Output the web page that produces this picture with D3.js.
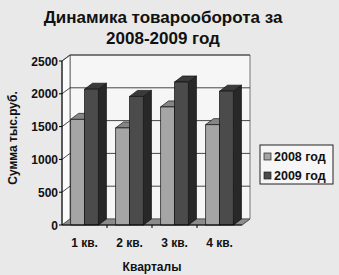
<!DOCTYPE html>
<html>
<head>
<meta charset="utf-8">
<script src="https://cdn.jsdelivr.net/npm/d3@7"></script>
<style>
  body { margin: 0; background: #e9e9e9; }
  svg { display: block; font-family: "Liberation Sans", Arial, sans-serif; }
</style>
</head>
<body>
<div id="chart"></div>
<script>
const quarters = ["1 кв.", "2 кв.", "3 кв.", "4 кв."]
const seriesNames = ["2008 год", "2009 год"]
const sales2008 = [1610, 1480, 1800, 1530]
const sales2009 = [2070, 1960, 2180, 2040]
const yTicks = [0, 500, 1000, 1500, 2000, 2500]

const width = 339, height = 275
const plot = { left: 62, right: 242, bottom: 225, top: 61 }
const depth = { dx: 8, dy: -6 }

const colors = [
  { front: "#a5a5a5", top: "#858585", side: "#6f6f6f" },
  { front: "#4b4b4b", top: "#3a3a3a", side: "#282828" }
]

const svg = d3.select("#chart").append("svg")
  .attr("width", width)
  .attr("height", height)

svg.append("rect").attr("width", width).attr("height", height).attr("fill", "#e9e9e9")

const y = d3.scaleLinear().domain([0, 2500]).range([plot.bottom, plot.top])
const x0 = d3.scaleBand().domain(quarters).range([plot.left, plot.right])
const groupW = x0.bandwidth() * 0.62
const x1 = d3.scaleBand().domain(seriesNames).range([0, groupW])

const pts = arr => arr.map(p => p.join(",")).join(" ")

// walls (back plane is the front scale shifted by the depth offset)
const bx = plot.left + depth.dx
const by = d3.scaleLinear().domain(y.domain()).range(y.range().map(v => v + depth.dy))
const bRight = plot.right + depth.dx
svg.append("polygon")
  .attr("points", pts([[bx, by(2500)], [bRight, by(2500)], [bRight, by(0)], [bx, by(0)]]))
  .attr("fill", "#f6f6f6").attr("stroke", "#555").attr("stroke-width", 0.8)
svg.append("polygon")
  .attr("points", pts([[plot.left, y(2500)], [bx, by(2500)], [bx, by(0)], [plot.left, y(0)]]))
  .attr("fill", "#fbfbfb").attr("stroke", "#555").attr("stroke-width", 0.8)
// floor
svg.append("polygon")
  .attr("points", pts([[plot.left, y(0)], [bx, by(0)], [bRight, by(0)], [plot.right, y(0)]]))
  .attr("fill", "#8c8c8c").attr("stroke", "#555").attr("stroke-width", 0.8)

// gridlines
yTicks.filter(d => d > 0).forEach(d => {
  svg.append("polyline")
    .attr("points", pts([[plot.left, y(d)], [bx, by(d)], [bRight, by(d)]]))
    .attr("fill", "none").attr("stroke", "#333").attr("stroke-width", 0.9)
})

// bars, drawn left to right so each front face hides the previous side
const data = quarters.map((q, i) => [sales2008[i], sales2009[i]])
quarters.forEach((q, i) => {
  data[i].forEach((v, s) => {
    const xl = x0(q) + (x0.bandwidth() - groupW) / 2 + x1(seriesNames[s])
    const xr = xl + x1.bandwidth()
    const yt = y(v), yb = y(0)
    const c = colors[s]
    const g = svg.append("g").attr("stroke", "#111").attr("stroke-width", 0.7).attr("stroke-linejoin", "round")
    g.append("polygon")
      .attr("points", pts([[xr, yt], [xr + depth.dx, yt + depth.dy], [xr + depth.dx, yb + depth.dy], [xr, yb]]))
      .attr("fill", c.side)
    g.append("polygon")
      .attr("points", pts([[xl, yt], [xl + depth.dx, yt + depth.dy], [xr + depth.dx, yt + depth.dy], [xr, yt]]))
      .attr("fill", c.top)
    g.append("rect")
      .attr("x", xl).attr("y", yt).attr("width", xr - xl).attr("height", yb - yt)
      .attr("fill", c.front)
  })
})

// axes
svg.append("line").attr("x1", plot.left).attr("x2", plot.left).attr("y1", y(2500)).attr("y2", y(0))
  .attr("stroke", "#000").attr("stroke-width", 1)
svg.append("line").attr("x1", plot.left).attr("x2", plot.right).attr("y1", y(0)).attr("y2", y(0))
  .attr("stroke", "#000").attr("stroke-width", 1)
svg.append("line").attr("x1", plot.right).attr("x2", bRight).attr("y1", y(0)).attr("y2", by(0))
  .attr("stroke", "#555").attr("stroke-width", 0.8)

yTicks.forEach(d => {
  svg.append("line").attr("x1", plot.left - 3).attr("x2", plot.left).attr("y1", y(d)).attr("y2", y(d))
    .attr("stroke", "#000")
  svg.append("text").attr("x", plot.left - 4).attr("y", y(d) + 4.5)
    .attr("text-anchor", "end").attr("font-size", 12).attr("font-weight", "bold").attr("fill", "#111")
    .text(d)
})

quarters.forEach((q, i) => {
  if (i > 0) {
    svg.append("line").attr("x1", x0(q)).attr("x2", x0(q)).attr("y1", y(0)).attr("y2", y(0) + 3).attr("stroke", "#000")
  }
  svg.append("text").attr("x", x0(q) + x0.bandwidth() / 2).attr("y", 247)
    .attr("text-anchor", "middle").attr("font-size", 12).attr("font-weight", "bold").attr("fill", "#111")
    .text(q)
})

// titles
svg.append("text").attr("x", 163).attr("y", 23).attr("text-anchor", "middle")
  .attr("font-size", 17).attr("font-weight", "bold").attr("fill", "#111").text("Динамика товарооборота за")
svg.append("text").attr("x", 163).attr("y", 44).attr("text-anchor", "middle")
  .attr("font-size", 17).attr("font-weight", "bold").attr("fill", "#111").text("2008-2009 год")
svg.append("text").attr("x", 152).attr("y", 271).attr("text-anchor", "middle")
  .attr("font-size", 12).attr("font-weight", "bold").attr("fill", "#111").text("Кварталы")
svg.append("text").attr("transform", "translate(17,138) rotate(-90)").attr("text-anchor", "middle")
  .attr("font-size", 12).attr("font-weight", "bold").attr("fill", "#111").text("Сумма тыс.руб.")

// legend
const legend = svg.append("g").attr("transform", "translate(260,145)")
legend.append("rect").attr("width", 73).attr("height", 39).attr("fill", "#f6f6f6").attr("stroke", "#222")
seriesNames.forEach((s, i) => {
  legend.append("rect").attr("x", 4).attr("y", 8 + i * 19).attr("width", 7).attr("height", 7)
    .attr("fill", colors[i].front).attr("stroke", "#222").attr("stroke-width", 0.7)
  legend.append("text").attr("x", 14).attr("y", 15.5 + i * 19)
    .attr("font-size", 12.5).attr("font-weight", "bold").attr("fill", "#111").text(s)
})
</script>
</body>
</html>
